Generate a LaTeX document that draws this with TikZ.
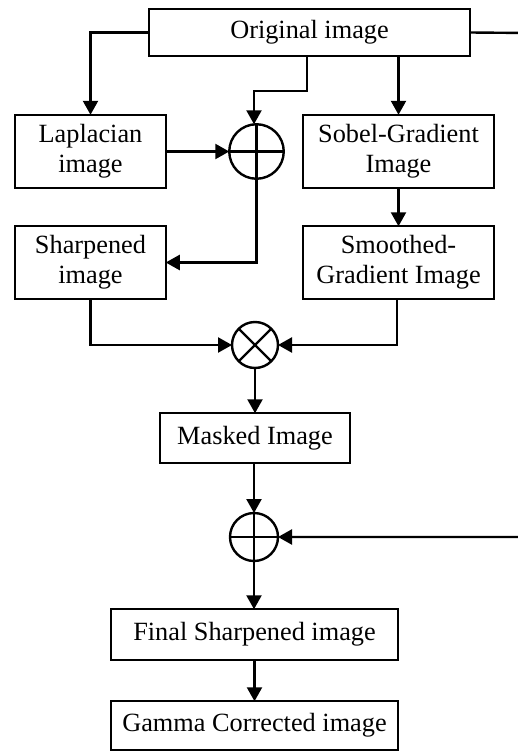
\documentclass[tikz,border=0pt]{standalone}
\usepackage{fontspec}
\setmainfont{Liberation Serif}
\usetikzlibrary{arrows.meta}
\begin{document}
\begin{tikzpicture}[x=1pt,y=-1pt,
  box/.style={draw,line width=2.4pt,inner sep=0pt,outer sep=0pt,align=center,
    font=\fontsize{26.3}{30}\selectfont},
  sumc/.style={draw,circle,line width=2.4pt,inner sep=0pt,outer sep=0pt},
  arr/.style={line width=2.4pt,-{Triangle[length=14pt,width=15pt]}},
  ln/.style={line width=2.4pt}]
\useasboundingbox (0,0) rectangle (518,752);
\clip (0,0) rectangle (518,752);
\node[box,minimum width=320.5pt,minimum height=46.5pt] (orig) at (309.5,32.5) {Original image};
\node[box,minimum width=150.5pt,minimum height=73.5pt] (lap) at (90.5,151.5) {Laplacian\\image};
\node[box,minimum width=190.5pt,minimum height=73.5pt] (sobel) at (398.5,151.5) {Sobel-Gradient\\Image};
\node[box,minimum width=150.5pt,minimum height=72.5pt] (sharp) at (90.5,262.5) {Sharpened\\image};
\node[box,minimum width=190.5pt,minimum height=72.5pt] (smooth) at (398.5,262.5) {Smoothed-\\Gradient Image};
\node[box,minimum width=190.5pt,minimum height=49.5pt] (masked) at (255,438) {Masked Image};
\node[box,minimum width=286.5pt,minimum height=50.5pt] (final) at (254.5,634.5) {Final Sharpened image};
\node[box,minimum width=286.5pt,minimum height=48.5pt] (gamma) at (254.5,725.5) {Gamma Corrected image};
\node[sumc,minimum size=54.5pt] (plus1) at (256.5,151.5) {};
\node[sumc,minimum size=46pt] (times) at (255,345) {};
\node[sumc,minimum size=48pt] (plus2) at (254,537) {};
\draw[ln] (plus1.north) -- (plus1.south) (plus1.west) -- (plus1.east);
\draw[ln] (plus2.north) -- (plus2.south) (plus2.west) -- (plus2.east);
\draw[ln] (times.north west) -- (times.south east) (times.north east) -- (times.south west);
\coordinate (rt) at (530,33);
\draw[arr] (orig.west) -| (lap.north);
\draw[arr] ([xshift=-2.5pt]orig.south) -- ++(0,35) -| ([xshift=-2.5pt]plus1.north);
\draw[arr] (orig.south -| sobel.north) -- (sobel.north);
\draw[arr] (lap.east) -- (plus1.west);
\draw[arr] (plus1.south) |- (sharp.east);
\draw[arr] (sobel.south) -- (smooth.north);
\draw[arr] (sharp.south) |- (times.west);
\draw[arr] ([xshift=-1.5pt]smooth.south) |- (times.east);
\draw[arr] (times.south) -- (times.south |- masked.north);
\draw[arr] (plus2.north |- masked.south) -- (plus2.north);
\draw[arr] (orig.east) -- (rt) |- (plus2.east);
\draw[arr] (plus2.south) -- (plus2.south |- final.north);
\draw[arr] (final.south) -- (gamma.north);
\end{tikzpicture}
\end{document}
